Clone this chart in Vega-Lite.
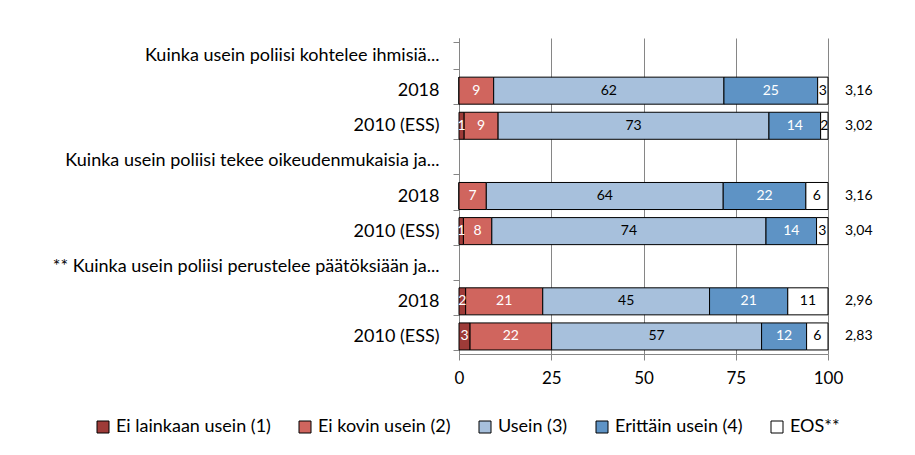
{
  "$schema": "https://vega.github.io/schema/vega-lite/v6.json",
  "width": 369,
  "height": 316,
  "autosize": "none",
  "padding": {"left": 459, "top": 38, "right": 87, "bottom": 101},
  "background": "white",
  "config": {"font": "Lato", "view": {"stroke": null}},
  "datasets": {
    "shares": [
      {"row": "2018|a", "cat": "Ei lainkaan usein (1)", "k": 1, "value": 0},
      {"row": "2018|a", "cat": "Ei kovin usein (2)", "k": 2, "value": 9.4},
      {"row": "2018|a", "cat": "Usein (3)", "k": 3, "value": 62.4},
      {"row": "2018|a", "cat": "Erittäin usein (4)", "k": 4, "value": 25.4},
      {"row": "2018|a", "cat": "EOS**", "k": 5, "value": 2.8},
      {"row": "2010 (ESS)|a", "cat": "Ei lainkaan usein (1)", "k": 1, "value": 1.4},
      {"row": "2010 (ESS)|a", "cat": "Ei kovin usein (2)", "k": 2, "value": 9.2},
      {"row": "2010 (ESS)|a", "cat": "Usein (3)", "k": 3, "value": 73.4},
      {"row": "2010 (ESS)|a", "cat": "Erittäin usein (4)", "k": 4, "value": 14.0},
      {"row": "2010 (ESS)|a", "cat": "EOS**", "k": 5, "value": 2.0},
      {"row": "2018|b", "cat": "Ei lainkaan usein (1)", "k": 1, "value": 0},
      {"row": "2018|b", "cat": "Ei kovin usein (2)", "k": 2, "value": 7.4},
      {"row": "2018|b", "cat": "Usein (3)", "k": 3, "value": 64.2},
      {"row": "2018|b", "cat": "Erittäin usein (4)", "k": 4, "value": 22.4},
      {"row": "2018|b", "cat": "EOS**", "k": 5, "value": 6.0},
      {"row": "2010 (ESS)|b", "cat": "Ei lainkaan usein (1)", "k": 1, "value": 1.2},
      {"row": "2010 (ESS)|b", "cat": "Ei kovin usein (2)", "k": 2, "value": 7.7},
      {"row": "2010 (ESS)|b", "cat": "Usein (3)", "k": 3, "value": 74.3},
      {"row": "2010 (ESS)|b", "cat": "Erittäin usein (4)", "k": 4, "value": 13.7},
      {"row": "2010 (ESS)|b", "cat": "EOS**", "k": 5, "value": 3.1},
      {"row": "2018|c", "cat": "Ei lainkaan usein (1)", "k": 1, "value": 1.8},
      {"row": "2018|c", "cat": "Ei kovin usein (2)", "k": 2, "value": 20.9},
      {"row": "2018|c", "cat": "Usein (3)", "k": 3, "value": 45.2},
      {"row": "2018|c", "cat": "Erittäin usein (4)", "k": 4, "value": 21.2},
      {"row": "2018|c", "cat": "EOS**", "k": 5, "value": 10.9},
      {"row": "2010 (ESS)|c", "cat": "Ei lainkaan usein (1)", "k": 1, "value": 3.0},
      {"row": "2010 (ESS)|c", "cat": "Ei kovin usein (2)", "k": 2, "value": 22.1},
      {"row": "2010 (ESS)|c", "cat": "Usein (3)", "k": 3, "value": 56.9},
      {"row": "2010 (ESS)|c", "cat": "Erittäin usein (4)", "k": 4, "value": 12.2},
      {"row": "2010 (ESS)|c", "cat": "EOS**", "k": 5, "value": 5.8}
    ],
    "means": [
      {"row": "2018|a", "mean": "3,16"},
      {"row": "2010 (ESS)|a", "mean": "3,02"},
      {"row": "2018|b", "mean": "3,16"},
      {"row": "2010 (ESS)|b", "mean": "3,04"},
      {"row": "2018|c", "mean": "2,96"},
      {"row": "2010 (ESS)|c", "mean": "2,83"}
    ]
  },
  "encoding": {
    "y": {
      "field": "row",
      "type": "nominal",
      "title": null,
      "scale": {
        "domain": [
          "Kuinka usein poliisi kohtelee ihmisiä...|a",
          "2018|a",
          "2010 (ESS)|a",
          "Kuinka usein  poliisi tekee oikeudenmukaisia ja...|b",
          "2018|b",
          "2010 (ESS)|b",
          "** Kuinka usein poliisi perustelee päätöksiään ja...|c",
          "2018|c",
          "2010 (ESS)|c"
        ],
        "paddingInner": 0.23,
        "paddingOuter": 0.115
      },
      "axis": {
        "labelExpr": "split(datum.label, '|')[0]",
        "tickBand": "extent",
        "tickSize": 6,
        "tickColor": "#868686",
        "domainColor": "#868686",
        "labelFontSize": 18,
        "labelColor": "black",
        "labelPadding": 14,
        "labelLimit": 0,
        "grid": false
      }
    }
  },
  "layer": [
    {
      "data": {"name": "shares"},
      "transform": [
        {"stack": "value", "groupby": ["row"], "sort": [{"field": "k"}], "as": ["x0", "x1"]}
      ],
      "mark": {"type": "bar", "stroke": "black", "strokeWidth": 1},
      "encoding": {
        "x": {
          "field": "x0",
          "type": "quantitative",
          "title": null,
          "scale": {"domain": [0, 100], "nice": false},
          "axis": {
            "values": [0, 25, 50, 75, 100],
            "grid": true,
            "gridColor": "#868686",
            "domainColor": "#868686",
            "tickColor": "#868686",
            "tickSize": 6,
            "labelFontSize": 17,
            "labelColor": "black",
            "labelPadding": 10,
            "labelFlush": false
          }
        },
        "x2": {"field": "x1"},
        "color": {
          "field": "cat",
          "type": "nominal",
          "scale": {
            "domain": ["Ei lainkaan usein (1)", "Ei kovin usein (2)", "Usein (3)", "Erittäin usein (4)", "EOS**"],
            "range": ["#9E3B38", "#D0655E", "#A7C0DC", "#5E93C5", "#FFFFFF"]
          },
          "legend": {
            "title": null,
            "orient": "none",
            "direction": "horizontal",
            "legendX": -365,
            "legendY": 380,
            "columns": 5,
            "columnPadding": 25,
            "symbolType": "square",
            "symbolSize": 144,
            "symbolStrokeColor": "black",
            "symbolStrokeWidth": 1,
            "symbolOpacity": 1,
            "labelFontSize": 18,
            "labelColor": "black",
            "labelOffset": 4
          }
        }
      }
    },
    {
      "data": {"name": "shares"},
      "transform": [
        {"stack": "value", "groupby": ["row"], "sort": [{"field": "k"}], "as": ["x0", "x1"]},
        {"calculate": "(datum.x0 + datum.x1) / 2", "as": "xm"},
        {"filter": "datum.value >= 0.5"}
      ],
      "mark": {"type": "text", "fontSize": 14, "baseline": "middle", "align": "center"},
      "encoding": {
        "x": {"field": "xm", "type": "quantitative"},
        "text": {"field": "value", "type": "quantitative", "format": ".0f"},
        "color": {
          "condition": {"test": "datum.k == 3 || datum.k == 5", "value": "black"},
          "value": "white"
        }
      }
    },
    {
      "data": {"name": "means"},
      "mark": {"type": "text", "fontSize": 14, "align": "left", "baseline": "middle", "dx": 17, "color": "black"},
      "encoding": {
        "x": {"datum": 100, "type": "quantitative"},
        "text": {"field": "mean"}
      }
    }
  ]
}
